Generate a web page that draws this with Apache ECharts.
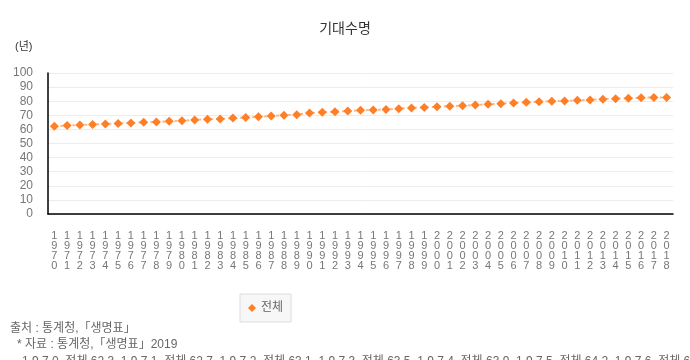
<!DOCTYPE html>
<html><head><meta charset="utf-8">
<script src="https://cdn.jsdelivr.net/npm/echarts@6/dist/echarts.min.js"></script>
<style>html,body{margin:0;padding:0;background:#fff}#c{width:690px;height:360px}</style>
</head><body><div id="c"></div>
<script>
var years = ['1970','1971','1972','1973','1974','1975','1976','1977','1978','1979','1980','1981','1982','1983','1984','1985','1986','1987','1988','1989','1990','1991','1992','1993','1994','1995','1996','1997','1998','1999','2000','2001','2002','2003','2004','2005','2006','2007','2008','2009','2010','2011','2012','2013','2014','2015','2016','2017','2018'];
var total = [62.3,62.7,63.1,63.5,63.9,64.2,64.6,65.0,65.3,65.7,66.1,66.7,67.2,67.4,68.0,68.4,68.9,69.5,70.0,70.4,71.7,72.1,72.6,73.0,73.5,73.8,74.2,74.7,75.2,75.6,76.0,76.5,76.8,77.3,77.8,78.2,78.8,79.2,79.6,80.0,80.2,80.6,80.9,81.4,81.8,82.1,82.4,82.7,82.7];
var seriesName = '전체';
var titleText = '기대수명';
var unitText = '(년)';
var source1 = '출처 : 통계청,「생명표」';
var source2 = '* 자료 : 통계청,「생명표」2019';

var FONT = '"Liberation Sans", "Noto Sans CJK KR", sans-serif';
var summary = years.map(function(y,i){ return y.split('').join(' ') + '  ' + seriesName + ' ' + total[i]; }).join(', ');

var chart = echarts.init(document.getElementById('c'));
chart.setOption({
  animation: false,
  title: { text: titleText, left: 'center', top: 17, textStyle: { fontSize: 14, fontWeight: 'normal', color: '#333', fontFamily: FONT } },
  legend: {
    data: [{ name: seriesName, icon: 'diamond' }],
    left: 240, top: 294, width: 42, height: 27,
    padding: [8, 8, 8, 8],
    itemWidth: 8, itemHeight: 8, itemGap: 5,
    backgroundColor: '#f7f7f7', borderColor: '#ddd', borderWidth: 1,
    textStyle: { fontSize: 12, color: '#666', fontFamily: FONT }
  },
  grid: { left: 48, right: 17, top: 73, bottom: 146, containLabel: false },
  xAxis: {
    type: 'category', data: years, boundaryGap: true,
    axisLine: { lineStyle: { color: '#000', width: 1.5 } },
    axisTick: { show: false },
    axisLabel: { interval: 0, margin: 17, fontSize: 11, lineHeight: 10, color: '#777', fontFamily: FONT,
      formatter: function(v){ return v.split('').join('\n'); } }
  },
  yAxis: {
    type: 'value', min: 0, max: 100, interval: 10,
    axisLine: { show: true, lineStyle: { color: '#000', width: 1.5 } },
    axisTick: { show: false },
    splitLine: { lineStyle: { color: '#ececec' } },
    axisLabel: { fontSize: 12, color: '#777', margin: 15, fontFamily: FONT }
  },
  series: [{
    name: seriesName, type: 'line', data: total,
    symbol: 'diamond', symbolSize: 9,
    itemStyle: { color: '#ff7f27' },
    lineStyle: { color: '#fcb985', width: 2, type: [3, 3] }
  }],
  graphic: [
    { type: 'text', left: 15, top: 41, style: { text: unitText, fontSize: 11, fill: '#333', fontFamily: FONT } },
    { type: 'text', left: 10, top: 323, style: { text: source1, fontSize: 12, fill: '#666', fontFamily: FONT } },
    { type: 'text', left: 17, top: 339, style: { text: source2, fontSize: 12, fill: '#666', fontFamily: FONT } },
    { type: 'text', left: 22, top: 356, style: { text: summary, fontSize: 12, fill: '#666', fontFamily: FONT } }
  ]
});
</script></body></html>
